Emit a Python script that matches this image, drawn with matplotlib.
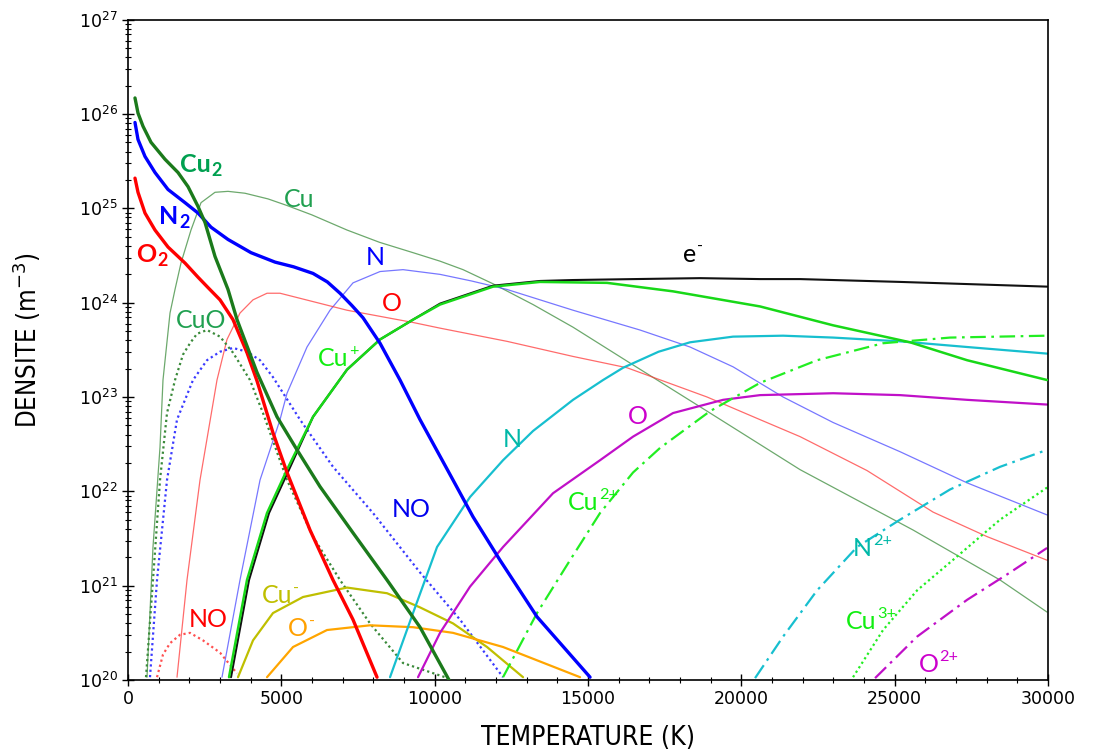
import numpy as np
import matplotlib
matplotlib.use("Agg")
import matplotlib.pyplot as plt
from matplotlib.ticker import MultipleLocator, FixedLocator, NullFormatter, LogFormatterSciNotation

# ---- data: temperature (K) and log10 of density (m^-3) ----
T_cu2 = [228, 326, 489, 750, 1207, 1630, 1957, 2283, 2511, 2837, 3261, 3555, 4207, 4859, 5511, 6261, 7337, 8446, 9522, 10468]
L_cu2 = [26.17, 26.01, 25.87, 25.70, 25.52, 25.38, 25.23, 25.02, 24.85, 24.49, 24.14, 23.82, 23.26, 22.79, 22.44, 22.05, 21.56, 21.06, 20.56, 20.00]

T_n2 = [228, 326, 554, 880, 1304, 1859, 2283, 2707, 3261, 4011, 4794, 5400, 6033, 6500, 6913, 7300, 7663, 8218, 8870, 9522, 10598, 11250, 12131, 13337, 15066]
L_n2 = [25.91, 25.73, 25.55, 25.38, 25.20, 25.06, 24.95, 24.80, 24.67, 24.53, 24.43, 24.38, 24.31, 24.22, 24.10, 23.97, 23.84, 23.57, 23.18, 22.76, 22.12, 21.73, 21.27, 20.67, 20.03]

T_o2 = [228, 326, 554, 880, 1304, 1859, 2283, 2609, 3000, 3424, 3880, 4207, 4728, 5185, 5935, 6685, 7337, 8120]
L_o2 = [25.32, 25.17, 24.95, 24.77, 24.59, 24.42, 24.27, 24.16, 24.03, 23.82, 23.47, 23.17, 22.62, 22.20, 21.59, 21.06, 20.64, 20.03]

T_cu = [620, 815, 1044, 1141, 1370, 1533, 1728, 2054, 2381, 2837, 3261, 3815, 4565, 5185, 6000, 7141, 8200, 9294, 10174, 10925, 11903, 13207, 14511, 16272, 18881, 21914, 25599, 28436, 29968]
L_cu = [20.03, 21.41, 22.47, 23.18, 23.89, 24.14, 24.42, 24.77, 25.06, 25.17, 25.18, 25.16, 25.10, 25.03, 24.93, 24.77, 24.64, 24.53, 24.44, 24.35, 24.20, 23.98, 23.74, 23.38, 22.85, 22.23, 21.59, 21.06, 20.72]

T_n = [3065, 3652, 4305, 4957, 5185, 5837, 6587, 7337, 8218, 8968, 10174, 11200, 12359, 14511, 16696, 18327, 19729, 21360, 22990, 25175, 27360, 29968]
L_n = [20.03, 21.06, 22.12, 22.76, 23.04, 23.53, 23.92, 24.21, 24.33, 24.35, 24.30, 24.23, 24.14, 23.92, 23.71, 23.53, 23.32, 23.00, 22.73, 22.42, 22.09, 21.75]

T_o = [1598, 1924, 2348, 2902, 3228, 3652, 4076, 4533, 4957, 7141, 9294, 10174, 12359, 14511, 16272, 18881, 20609, 21914, 24099, 26251, 28012, 29968]
L_o = [20.03, 21.06, 22.12, 23.18, 23.61, 23.89, 24.03, 24.10, 24.10, 23.92, 23.79, 23.73, 23.59, 23.43, 23.31, 23.00, 22.76, 22.58, 22.22, 21.78, 21.52, 21.27]

T_e = [3359, 3946, 4598, 5250, 6033, 7141, 8218, 9294, 10174, 11903, 13435, 14511, 16500, 18653, 20609, 21914, 25175, 29968]
L_e = [20.03, 21.06, 21.77, 22.23, 22.79, 23.29, 23.61, 23.82, 23.99, 24.18, 24.23, 24.24, 24.25, 24.26, 24.25, 24.25, 24.22, 24.17]

T_cup = [3294, 3880, 4533, 5185, 6033, 7141, 8218, 9294, 10174, 11903, 13435, 15620, 17772, 20609, 22990, 25501, 27360, 29968]
L_cup = [20.03, 21.06, 21.77, 22.23, 22.79, 23.29, 23.61, 23.82, 23.98, 24.17, 24.22, 24.21, 24.12, 23.96, 23.76, 23.58, 23.39, 23.18]

T_cuo = [587, 815, 1044, 1272, 1533, 1794, 2022, 2250, 2576, 3000, 3424, 3978, 4402, 5185, 6033, 6913, 7891, 8968, 10337]
L_cuo = [20.03, 21.06, 22.12, 22.83, 23.18, 23.45, 23.57, 23.67, 23.71, 23.64, 23.47, 23.18, 22.83, 22.12, 21.52, 21.06, 20.60, 20.18, 20.03]

T_no = [717, 946, 1272, 1598, 2120, 2576, 3000, 3424, 3880, 4305, 4728, 5609, 6685, 7989, 9522, 10826, 12229]
L_no = [20.03, 21.06, 22.12, 22.76, 23.18, 23.39, 23.48, 23.52, 23.48, 23.39, 23.21, 22.76, 22.26, 21.77, 21.14, 20.64, 20.03]

T_nop = [946, 1141, 1370, 1696, 2022, 2446, 3000, 3555]
L_nop = [20.03, 20.27, 20.39, 20.48, 20.50, 20.42, 20.29, 20.07]

T_cum = [3587, 4076, 4728, 5707, 7141, 8446, 9522, 10598, 11707, 12881]
L_cum = [20.03, 20.42, 20.71, 20.88, 20.98, 20.92, 20.77, 20.60, 20.35, 20.03]

T_om = [4533, 5381, 6489, 7891, 9294, 10598, 12229, 14740]
L_om = [20.03, 20.35, 20.53, 20.58, 20.56, 20.50, 20.35, 20.03]

T_np = [8544, 9294, 10077, 11153, 12229, 13207, 14511, 15490, 16142, 17300, 18327, 19729, 21360, 22990, 25175, 27360, 29968]
L_np = [20.03, 20.71, 21.41, 21.94, 22.33, 22.64, 22.97, 23.18, 23.31, 23.48, 23.58, 23.64, 23.65, 23.63, 23.59, 23.53, 23.46]

T_op = [9457, 10174, 11153, 12229, 13859, 15392, 16468, 17772, 19403, 20609, 22990, 25175, 27360, 29968]
L_op = [20.03, 20.50, 20.99, 21.41, 21.98, 22.33, 22.58, 22.83, 22.97, 23.02, 23.04, 23.02, 22.97, 22.92]

T_cu2p = [12229, 13337, 14413, 15392, 16468, 17348, 18979, 20609, 22468, 24620, 26805, 29968]
L_cu2p = [20.03, 20.71, 21.27, 21.77, 22.20, 22.46, 22.85, 23.15, 23.39, 23.57, 23.63, 23.65]

T_n2p = [20446, 21360, 22468, 23772, 25175, 26805, 28436, 29968]
L_n2p = [20.02, 20.46, 20.95, 21.41, 21.70, 22.02, 22.26, 22.44]

T_cu3p = [23641, 24620, 25729, 27034, 28436, 29968]
L_cu3p = [20.03, 20.53, 20.95, 21.31, 21.70, 22.04]

T_o2p = [24359, 25729, 27360, 28762, 29968]
L_o2p = [20.02, 20.46, 20.85, 21.14, 21.40]

x_ticks = [0, 5000, 10000, 15000, 20000, 25000, 30000]
y_decades = [20, 21, 22, 23, 24, 25, 26, 27]

# ---- figure ----
DPI = 100
fig = plt.figure(figsize=(10.94, 7.56), dpi=DPI)
ax = fig.add_axes([0.117, 0.1005, 0.841, 0.8735])

def draw(T, L, color, lw, ls='-', alpha=1.0, z=2):
    ax.plot(T, 10.0 ** np.array(L), color=color, lw=lw, ls=ls, alpha=alpha, zorder=z,
            solid_capstyle='round', solid_joinstyle='round')

dashdot = (0, (7, 2.5, 1.2, 2.5))
dotted = (0, (1, 1.4))

draw(T_cu, L_cu, '#3c8c3c', 0.9, alpha=0.75)
draw(T_n, L_n, '#4a4aff', 0.9, alpha=0.75)
draw(T_o, L_o, '#ff3a3a', 0.9, alpha=0.75)
draw(T_cuo, L_cuo, '#3a8a3a', 1.6, ls=dotted)
draw(T_no, L_no, '#3a3aff', 1.6, ls=dotted)
draw(T_nop, L_nop, '#ff5050', 1.6, ls=dotted)
draw(T_cum, L_cum, '#bfbf00', 1.6)
draw(T_om, L_om, '#ffa500', 1.6)
draw(T_np, L_np, '#17bfcf', 1.6)
draw(T_op, L_op, '#c010c8', 1.6)
draw(T_cu2p, L_cu2p, '#22ee22', 1.6, ls=dashdot)
draw(T_n2p, L_n2p, '#17bfcf', 1.6, ls=dashdot)
draw(T_cu3p, L_cu3p, '#22ee22', 1.6, ls=dotted)
draw(T_o2p, L_o2p, '#c010c8', 1.6, ls=dashdot)
draw(T_e, L_e, '#111111', 1.5)
draw(T_cup, L_cup, '#18d818', 1.8, z=3)
draw(T_o2, L_o2, '#ff0000', 2.4, z=4)
draw(T_n2, L_n2, '#0000ff', 2.4, z=4)
draw(T_cu2, L_cu2, '#1b7a1b', 2.4, z=4)

ax.set_yscale('log')
ax.set_xlim(0, 30000)
ax.set_ylim(1e20, 1e27)
ax.set_xticks(x_ticks)
ax.xaxis.set_minor_locator(MultipleLocator(1000))
major_y = [10.0 ** d for d in y_decades]
minor_y = [m * 10.0 ** d for d in y_decades[:-1] for m in range(2, 10)]
ax.yaxis.set_major_locator(FixedLocator(major_y))
ax.yaxis.set_major_formatter(LogFormatterSciNotation())
ax.yaxis.set_minor_locator(FixedLocator(minor_y))
ax.yaxis.set_minor_formatter(NullFormatter())
ax.tick_params(which='major', direction='inout', length=8, width=1.0, labelsize=12.5)
ax.tick_params(which='minor', direction='inout', length=4, width=0.8)
for s in ax.spines.values():
    s.set_linewidth(1.2)

ax.set_xlabel('TEMPERATURE (K)', fontsize=19, family='DejaVu Sans', fontstretch='condensed')
ax.set_ylabel(r'DENSITE (m$^{-3}$)', fontsize=18.5, family='DejaVu Sans', fontstretch='condensed')
ax.xaxis.set_label_coords(0.5, -0.088)
ax.xaxis.label.set_va('center')
ax.yaxis.set_label_coords(-0.110, 0.515)
ax.yaxis.label.set_va('center')

# ---- in-plot labels (position given as left edge / baseline in data coords) ----
tf = ['Lato', 'Open Sans', 'DejaVu Sans']
renderer = fig.canvas.get_renderer()

def label(T, n, s, color, sup=None, sub=None, size=18, bold=False):
    w = 'bold' if bold else 'normal'
    t = ax.text(T, n, s, color=color, fontsize=size, family=tf, fontweight=w,
                ha='left', va='baseline', zorder=6)
    width_pt = t.get_window_extent(renderer).width * 72.0 / DPI
    if sup is not None:
        ax.annotate(sup, xy=(T, n), xycoords='data', xytext=(width_pt + 0.5, size * 0.42),
                    textcoords='offset points', color=color, fontsize=size * 0.65,
                    family=tf, fontweight=w, ha='left', va='baseline', zorder=6)
    if sub is not None:
        ax.annotate(sub, xy=(T, n), xycoords='data', xytext=(width_pt + 0.5, -size * 0.17),
                    textcoords='offset points', color=color, fontsize=size * 0.72,
                    family=tf, fontweight=w, ha='left', va='baseline', zorder=6)

def px2T(x):
    return (x - 128) * 30000.0 / 920.0

def py2n(y):
    return 10.0 ** (27 - (y - 20) / 94.29)

label(px2T(180), py2n(172), 'Cu', '#00a050', sub='2', bold=True)
label(px2T(159), py2n(224), 'N', '#0000ff', sub='2', bold=True)
label(px2T(136), py2n(262), 'O', '#ff0000', sub='2', bold=True)
label(px2T(284), py2n(207), 'Cu', '#20a050')
label(px2T(366), py2n(265), 'N', '#0000ff')
label(px2T(382), py2n(311), 'O', '#ff0000')
label(px2T(683), py2n(262), 'e', '#000000', sup='-')
label(px2T(176), py2n(328), 'CuO', '#20a050')
label(px2T(318), py2n(366), 'Cu', '#11ee11', sup='+')
label(px2T(503), py2n(447), 'N', '#00b8a8')
label(px2T(628), py2n(424), 'O', '#cc00cc')
label(px2T(392), py2n(517), 'NO', '#0000ee')
label(px2T(568), py2n(510), 'Cu', '#11ee11', sup='2+')
label(px2T(189), py2n(627), 'NO', '#ff0000')
label(px2T(262), py2n(603), 'Cu', '#bfbf00', sup='-')
label(px2T(288), py2n(636), 'O', '#ffa000', sup='-')
label(px2T(853), py2n(556), 'N', '#00b8a8', sup='2+')
label(px2T(846), py2n(629), 'Cu', '#11ee11', sup='3+')
label(px2T(919), py2n(672), 'O', '#cc00cc', sup='2+')

fig.savefig('out.png', dpi=DPI)
